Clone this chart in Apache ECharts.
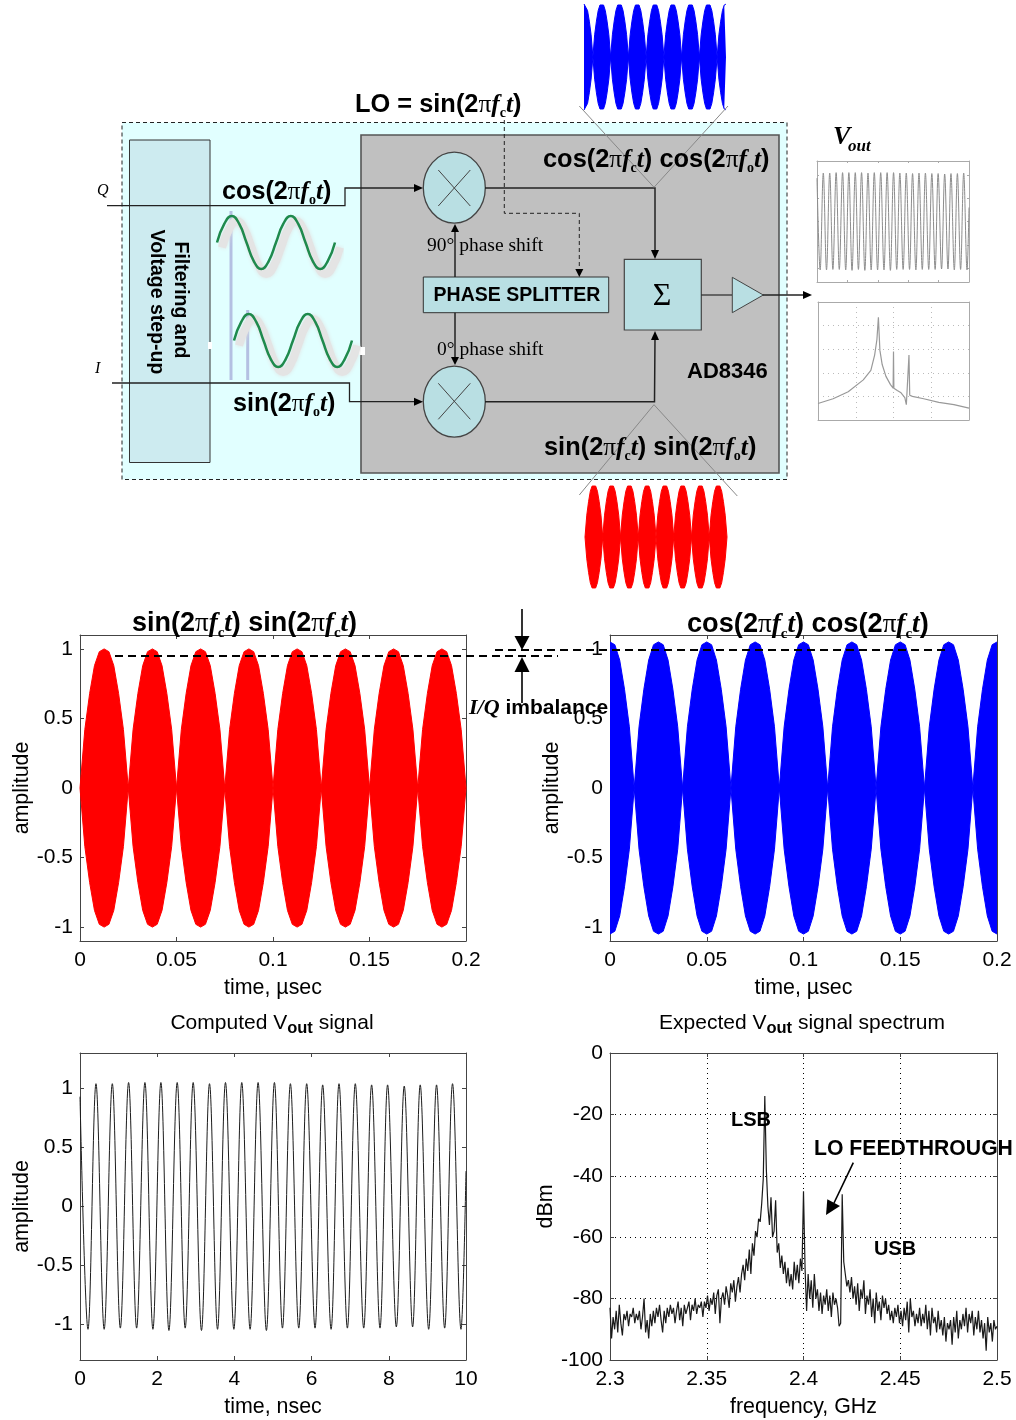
<!DOCTYPE html>
<html><head><meta charset="utf-8">
<style>html,body{margin:0;padding:0;background:#fff}#c{width:1016px;height:1420px}</style>
<script src="https://cdn.jsdelivr.net/npm/echarts@6/dist/echarts.min.js"></script>
</head><body><div id="c"></div>
<script>
// ---------- values ----------
const envTime = [0,.0025,.005,.0075,.01,.0125,.015,.0175,.02,.0225,.025,.0275,.03,.0325,.035,.0375,.04,.0425,.045,.0475,.05,.0525,.055,.0575,.06,.0625,.065,.0675,.07,.0725,.075,.0775,.08,.0825,.085,.0875,.09,.0925,.095,.0975,.1,.1025,.105,.1075,.11,.1125,.115,.1175,.12,.1225,.125,.1275,.13,.1325,.135,.1375,.14,.1425,.145,.1475,.15,.1525,.155,.1575,.16,.1625,.165,.1675,.17,.1725,.175,.1775,.18,.1825,.185,.1875,.19,.1925,.195,.1975,.2];
const redEnvelope = [0,.42,.68,.88,.98,1,.98,.88,.68,.42,0,.42,.68,.88,.98,1,.98,.88,.68,.42,0,.42,.68,.88,.98,1,.98,.88,.68,.42,0,.42,.68,.88,.98,1,.98,.88,.68,.42,0,.42,.68,.88,.98,1,.98,.88,.68,.42,0,.42,.68,.88,.98,1,.98,.88,.68,.42,0,.42,.68,.88,.98,1,.98,.88,.68,.42,0,.42,.68,.88,.98,1,.98,.88,.68,.42,0];
const blueEnvelope = [1.05,1.03,.92,.71,.44,0,.44,.71,.92,1.03,1.05,1.03,.92,.71,.44,0,.44,.71,.92,1.03,1.05,1.03,.92,.71,.44,0,.44,.71,.92,1.03,1.05,1.03,.92,.71,.44,0,.44,.71,.92,1.03,1.05,1.03,.92,.71,.44,0,.44,.71,.92,1.03,1.05,1.03,.92,.71,.44,0,.44,.71,.92,1.03,1.05,1.03,.92,.71,.44,0,.44,.71,.92,1.03,1.05,1.03,.92,.71,.44,0,.44,.71,.92,1.03,1.05];
const voutTime = [0,.207,.414,.626,.837,1.045,1.259,1.467,1.682,1.889,2.096,2.304,2.518,2.725,2.932,3.147,3.355,3.563,3.769,3.986,4.191,4.407,4.614,4.829,5.037,5.245,5.451,5.667,5.873,6.089,6.287,6.505,6.71,6.927,7.132,7.35,7.555,7.772,7.969,8.195,8.4,8.617,8.814,9.033,9.237,9.447,9.651,9.87,10];
const voutValue = [.93,-1.04,1.04,-1.04,1.04,-1.03,1.05,-1.03,1.05,-1.04,1.05,-1.05,1.05,-1.03,1.05,-1.05,1.04,-1.04,1.05,-1.04,1.05,-1.04,1.05,-1.05,1.05,-1.03,1.04,-1.03,1.04,-1.03,1.03,-1.04,1.04,-1.03,1.04,-1.03,1.03,-1.03,1.03,-1.02,1.02,-1.02,1.03,-1.04,1.03,-1.03,1.04,-1.04,.3];
const spectrumStart = 2.3, spectrumStep = 0.0008;
const spectrumDbm = [
-83,-93,-86,-90,-84,-91,-82,-88,-92,-85,
-87,-84,-89,-85,-86,-83,-88,-85,-87,-84,
-90,-86,-80,-91,-87,-93,-85,-89,-84,-88,
-83,-86,-82,-87,-91,-84,-88,-83,-86,-82,
-85,-83,-88,-84,-81,-87,-83,-89,-82,-85,
-83,-81,-87,-82,-84,-80,-85,-82,-83,-81,
-86,-81,-83,-79,-84,-80,-82,-78,-85,-79,
-77,-88,-80,-78,-82,-76,-79,-83,-75,-78,
-74,-81,-76,-73,-78,-72,-69,-74,-67,-71,
-64,-72,-62,-66,-58,-60,-54,-55,-49,-41,
-14,-38,-50,-56,-47,-60,-58,-48,-65,-62,
-70,-66,-72,-68,-75,-70,-76,-72,-77,-68,
-74,-69,-75,-67,-71,-45,-70,-84,-72,-80,
-74,-83,-72,-80,-77,-84,-78,-85,-79,-82,
-77,-84,-79,-86,-78,-82,-80,-83,-89,-88,
-46,-68,-72,-76,-74,-78,-73,-80,-76,-82,
-75,-84,-77,-80,-74,-85,-79,-82,-77,-86,
-80,-88,-78,-84,-81,-87,-79,-83,-80,-85,
-82,-87,-84,-88,-83,-86,-82,-88,-84,-89,
-83,-87,-81,-91,-80,-86,-84,-89,-85,-88,
-83,-89,-85,-88,-82,-90,-84,-92,-83,-88,
-86,-91,-84,-90,-87,-92,-86,-94,-88,-90,
-87,-95,-86,-91,-84,-93,-87,-90,-85,-89,
-83,-91,-85,-88,-84,-92,-86,-90,-84,-91,
-87,-93,-88,-97,-86,-91,-88,-94,-87,-90,-89];
const thumbFreq = [2.3,2.32,2.34,2.36,2.37,2.375,2.378,2.38,2.382,2.385,2.39,2.396,2.3995,2.4,2.4005,2.405,2.41,2.415,2.417,2.419,2.4205,2.4215,2.425,2.44,2.46,2.48,2.5];
const thumbDbm = [-86,-82,-76,-66,-58,-45,-32,-13,-41,-53,-63,-70,-73,-42,-73,-75,-77,-81,-87,-87,-45,-79,-80,-82,-85,-87,-90];
const wavePhase = [0,.125,.25,.375,.5,.625,.75,.875,1,1.125,1.25,1.375,1.5,1.625,1.75,1.875,2];
const waveValue = [0,.71,1,.71,0,-.71,-1,-.71,0,.71,1,.71,0,-.71,-1,-.71,0];
const ampTicks = [-1,-.5,0,.5,1];

// ---------- helpers ----------
const SANS='"Liberation Sans",Arial,sans-serif', SERIF='"Liberation Serif","Times New Roman",serif';
const zip=(a,b)=>a.map((v,i)=>[v,b[i]]);
const neg=a=>a.map(v=>-v);
const spectrumFreq=spectrumDbm.map((_,i)=>spectrumStart+i*spectrumStep);
const grids=[],xAxes=[],yAxes=[],series=[];
const BOX='#444';
function addGrid(rect,xc,yc){
  const gi=grids.length; grids.push(Object.assign({containLabel:false},rect));
  const base=(c,pos,primary,isY)=>{
    const o={gridIndex:gi,type:'value',position:pos,min:c.min,max:c.max,silent:true,
      axisLine:{show:c.line!==false,onZero:false,lineStyle:{color:c.boxColor||BOX,width:1}},
      axisTick:{show:c.tick!==false,inside:true,length:c.tickLen||4,lineStyle:{color:c.boxColor||BOX}},
      axisLabel:{show:primary&&!c.noLabel,color:'#000',fontFamily:SANS,fontSize:21,margin:isY?7:9,padding:isY?[6,0,0,0]:0,hideOverlap:false,showMinLabel:true,showMaxLabel:true},
      splitLine:{show:!!c.split&&primary,lineStyle:{color:c.splitColor||'#000',type:[1,4],width:1}}};
    if(c.interval!==undefined)o.interval=c.interval;
    if(c.custom){o.axisLabel.customValues=c.custom;o.axisTick.customValues=c.custom;}
    if(primary&&c.name){o.name=c.name;o.nameLocation='middle';o.nameGap=c.nameGap;o.nameRotate=c.nameRotate||0;o.nameTextStyle={color:'#000',fontFamily:SANS,fontSize:21.4};}
    return o;
  };
  const xi=xAxes.length,yi=yAxes.length;
  if(xc.hidden){xAxes.push({gridIndex:gi,type:'value',show:false,min:xc.min,max:xc.max});yAxes.push({gridIndex:gi,type:'value',show:false,min:yc.min,max:yc.max});}
  else{
    xAxes.push(base(xc,'bottom',true,false),base(xc,'top',false,false));
    yAxes.push(base(yc,'left',true,true),base(yc,'right',false,true));
  }
  return {xAxisIndex:xi,yAxisIndex:yi};
}
function line(ax,data,color,width,extra){
  series.push(Object.assign({type:'line',xAxisIndex:ax.xAxisIndex,yAxisIndex:ax.yAxisIndex,data,showSymbol:false,symbol:'none',silent:true,animation:false,
    lineStyle:Object.assign({color,width},(extra&&extra.ls)||{}),emphasis:{disabled:true}},extra||{}));
}
function envelope(ax,vals,color){
  const a={areaStyle:{color,opacity:1}};
  line(ax,zip(envTime,vals),color,1,a);
  line(ax,zip(envTime,neg(vals)),color,1,a);
}
const hx={min:0,max:.2,hidden:true};

// ---------- main plots ----------
const ampY=(name)=>({min:-1.1,max:1.1,custom:ampTicks,name,nameGap:47,nameRotate:90});
const timeX={min:0,max:.2,interval:.05,name:'time, \u00b5sec',nameGap:37};
envelope(addGrid({left:80,top:635,width:386,height:306},timeX,ampY('amplitude')),redEnvelope,'#ff0000');
envelope(addGrid({left:610,top:635,width:387,height:306},timeX,ampY('amplitude')),blueEnvelope,'#0000ff');
line(addGrid({left:80,top:1053,width:386,height:307},{min:0,max:10,interval:2,name:'time, nsec',nameGap:37},
  {min:-1.3,max:1.3,custom:ampTicks,name:'amplitude',nameGap:47,nameRotate:90}),zip(voutTime,voutValue),'#1c1c1c',1,{smooth:.364});
line(addGrid({left:610,top:1053,width:387,height:307},{min:2.3,max:2.5,interval:.05,split:true,name:'frequency, GHz',nameGap:37},
  {min:-100,max:0,interval:20,split:true,name:'dBm',nameGap:52,nameRotate:90}),zip(spectrumFreq,spectrumDbm),'#1a1a1a',1.2);

// ---------- thumbnails ----------
envelope(addGrid({left:584,top:4,width:142,height:106},hx,{min:-1.05,max:1.05}),blueEnvelope,'#0000ff');
envelope(addGrid({left:585,top:485,width:142,height:104},hx,{min:-1,max:1}),redEnvelope,'#ff0000');
line(addGrid({left:817,top:161,width:152,height:121},{min:0,max:10,interval:2,noLabel:true,boxColor:'#aaa',tickLen:2},{min:-1.3,max:1.3,custom:ampTicks,noLabel:true,boxColor:'#aaa',tickLen:2}),
  zip(voutTime,voutValue),'#8c8c8c',1,{smooth:.364});
line(addGrid({left:818,top:302,width:151,height:118},{min:2.3,max:2.5,interval:.05,noLabel:true,split:true,splitColor:'#bbb',boxColor:'#aaa',tick:false},{min:-100,max:0,interval:20,noLabel:true,split:true,splitColor:'#bbb',boxColor:'#aaa',tick:false}),
  zip(thumbFreq,thumbDbm),'#999',1.2);

// ---------- little sine waves ----------
const wx={min:0,max:2,hidden:true}, wy={min:-1,max:1};
const waveData=zip(wavePhase,waveValue);
const sh={smooth:true,clip:false,ls:{shadowBlur:4,shadowColor:'#e2e2e2'}};
const gr={smooth:true,clip:false};
line(addGrid({left:222,top:221,width:118,height:53},wx,wy),waveData,'#e4e4e4',8,sh);
line(addGrid({left:239,top:319,width:118,height:53},wx,wy),waveData,'#e4e4e4',8,sh);
line(addGrid({left:217,top:216,width:118,height:53},wx,wy),waveData,'#1f8a4d',2.5,gr);
line(addGrid({left:234,top:314,width:118,height:53},wx,wy),waveData,'#1f8a4d',2.5,gr);

// ---------- diagram ----------
const g=[];
const R=(x,y,w,h,fill,stroke,lw,dash,z)=>g.push({type:'rect',z:z||0,silent:true,shape:{x,y,width:w,height:h},style:{fill,stroke,lineWidth:lw||1,lineDash:dash||null}});
const P=(pts,stroke,lw,dash,z)=>g.push({type:'polyline',z:z||30,silent:true,shape:{points:pts},style:{fill:null,stroke,lineWidth:lw||1.3,lineDash:dash||null}});
const H=(pts,fill,z)=>g.push({type:'polygon',z:z||30,silent:true,shape:{points:pts},style:{fill:fill||'#000',stroke:null}});
const E=(cx,cy,rx,ry)=>g.push({type:'ellipse',z:25,silent:true,shape:{cx,cy,rx,ry},style:{fill:'#b9dfe3',stroke:'#444',lineWidth:1.3}});
const T=(x,y,text,size,o)=>{o=o||{};g.push({type:'text',z:60,silent:true,x,y,rotation:o.rot||0,style:{text,fill:'#000',font:(o.style||'')+' '+(o.weight||'bold')+' '+size+'px '+(o.family||SANS),align:o.align||'left',verticalAlign:'middle',rich:o.rich}})};
function fx(parts,size){
  const s=Math.round(size*.56);
  return {text:parts.map(p=>`{a|${p[0]}(2}{p|\u03c0}{f|f}{s|${p[1]}}{f|t}{a|)}`).join('{a| }'),
    rich:{a:{fontFamily:SANS,fontWeight:'bold',fontSize:size,lineHeight:size*1.25},
      p:{fontFamily:SERIF,fontWeight:'normal',fontSize:size,lineHeight:size*1.25},
      f:{fontFamily:SERIF,fontStyle:'italic',fontWeight:'bold',fontSize:size,lineHeight:size*1.25},
      s:{fontFamily:SERIF,fontWeight:'bold',fontSize:s,lineHeight:size*1.25,verticalAlign:'bottom'}}};
}
const F=(x,y,parts,size,align)=>{const r=fx(parts,size);T(x,y,r.text,size,{rich:r.rich,align:align||'left'});};

R(122,122.5,665,357,'#e1ffff','#222',1,[4,3]);
R(129.5,140,80.5,322.5,'#cdebf0','#333',1);
R(361,135,418,338,'#c0c0c0','#555',1.6);
P([[231,211],[231,380]],'#b4c0e2',3,null,1);
P([[247.7,310],[247.7,380]],'#b4c0e2',3,null,1);
R(208,342,4,7,'#fff',null,0,null,1);
R(359,347,6,8,'#fff',null,0,null,1);
P([[107,205.7],[345,205.7],[345,188],[416,188]],'#222');
H([[423,188],[414,184],[414,192]]);
P([[485,188],[655,188],[655,252]],'#222',1.5);
H([[655,259],[651,250],[659,250]]);
P([[112,383],[349.5,383],[349.5,401.7],[416,401.7]],'#222');
H([[423,401.7],[414,397.7],[414,405.7]]);
P([[485,401.7],[654.5,401.7],[655,338]],'#222',1.5);
H([[655,331],[651,340],[659,340]]);
P([[455,277],[455,230]],'#222',1.5);H([[455,224],[451,232],[459,232]]);
P([[455,312.7],[455,358]],'#222',1.5);H([[455,365],[451,357],[459,357]]);
P([[504.3,120],[504.3,213.3],[579.3,213.3],[579.3,270]],'#222',1,[4,3]);
H([[579.3,277],[575.3,269],[583.3,269]]);
P([[701,295],[732,295]],'#333');
P([[763,295],[805,295]],'#222');H([[812,295],[803,291],[803,299]]);
E(454.3,187.7,31,35.5);E(454.3,401.7,31,35.5);
P([[438.3,170],[470.3,206]],'#444',1,null,31);P([[470.3,170],[438.3,206]],'#444',1,null,31);
P([[438.3,383.3],[470.3,419.3]],'#444',1,null,31);P([[470.3,383.3],[438.3,419.3]],'#444',1,null,31);
R(423.3,277,185.4,35.7,'#b9dfe3','#333',1,null,25);
R(624.3,259.3,77,70.7,'#b9dfe3','#444',1.2,null,25);
g.push({type:'polygon',z:26,silent:true,shape:{points:[[732.3,277.3],[732.3,312.7],[763.3,295]]},style:{fill:'#b9dfe3',stroke:'#444',lineWidth:1}});
P([[579.3,106],[654,187.3],[728,106]],'#888',1,null,40);
P([[579.3,495],[654,404.7],[737.3,496]],'#888',1,null,40);
F(355,105,[['LO = sin','c']],25.4);
F(222,192,[['cos','o']],25.2);
F(233,404,[['sin','o']],25.2);
F(543,160,[['cos','c'],['cos','o']],25.4);
F(544,448,[['sin','c'],['sin','o']],25.4);
T(97,191,'Q',16,{style:'italic',family:SERIF,weight:'normal'});
T(95,369,'I',16,{style:'italic',family:SERIF,weight:'normal'});
T(427,246,'90\u00b0 phase shift',19.5,{family:SERIF,weight:'normal'});
T(437,350,'0\u00b0 phase shift',19.5,{family:SERIF,weight:'normal'});
T(517,296,'PHASE SPLITTER',19.5,{align:'center'});
T(662,297,'\u03a3',32,{align:'center',family:SERIF,weight:'normal'});
T(687,372,'AD8346',22);
T(180,300,'Filtering and',19.5,{align:'center',rot:-Math.PI/2});
T(156,302,'Voltage step-up',19.5,{align:'center',rot:-Math.PI/2});
T(833,137,'V',26,{family:SERIF,style:'italic'});
T(848,147,'out',17,{family:SERIF,style:'italic'});
F(132,624,[['sin','c'],['sin','c']],27);
F(687,625,[['cos','c'],['cos','c']],27.2);
P([[115,656],[558,656]],'#000',2,[8,5],50);
P([[495,650],[948,650]],'#000',2,[8,5],50);
P([[522,609],[522,637]],'#000',1.6,null,50);H([[522,650],[514.5,636],[529.5,636]],'#000',50);
P([[522,671],[522,703]],'#000',1.6,null,50);H([[522,657],[514.5,672],[529.5,672]],'#000',50);
T(469,708,'{i|I/Q}{b| imbalance}',21,{rich:{i:{fontFamily:SERIF,fontStyle:'italic',fontWeight:'bold',fontSize:22},b:{fontFamily:SANS,fontWeight:'bold',fontSize:21}}});
const subRich={n:{fontFamily:SANS,fontSize:21,lineHeight:28},o:{fontFamily:SANS,fontSize:16.5,fontWeight:'bold',lineHeight:28,verticalAlign:'bottom'}};
T(272,1023,'{n|Computed V}{o|out}{n| signal}',21,{rich:subRich,align:'center',weight:'normal'});
T(802,1023,'{n|Expected V}{o|out}{n| signal spectrum}',21,{rich:subRich,align:'center',weight:'normal'});
T(751,1120,'LSB',20,{align:'center'});
T(814,1149,'LO FEEDTHROUGH',21.2);
T(895,1249,'USB',20,{align:'center'});
P([[853.3,1162.7],[834,1203]],'#000',1.6,null,50);
H([[826,1215],[840,1206],[827.3,1199.3]],'#000',50);

const chart=echarts.init(document.getElementById('c'),null,{renderer:'canvas',width:1016,height:1420});
chart.setOption({animation:false,backgroundColor:'#fff',grid:grids,xAxis:xAxes,yAxis:yAxes,series,graphic:{elements:g}});
</script></body></html>
